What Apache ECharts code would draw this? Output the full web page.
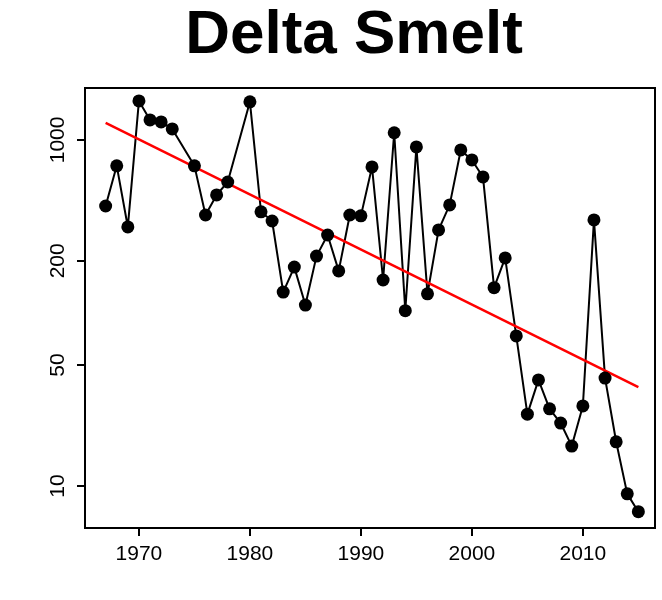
<!DOCTYPE html>
<html><head><meta charset="utf-8">
<script src="https://cdn.jsdelivr.net/npm/echarts@6/dist/echarts.min.js"></script>
<style>html,body{margin:0;padding:0;background:#fff}#c{width:662px;height:600px}</style>
</head><body><div id="c"></div>
<script>
const years = [1967,1968,1969,1970,1971,1972,1973,1975,1976,1977,1978,1980,1981,1982,1983,1984,1985,1986,1987,1988,1989,1990,1991,1992,1993,1994,1995,1996,1997,1998,1999,2000,2001,2002,2003,2004,2005,2006,2007,2008,2009,2010,2011,2012,2013,2014,2015];
const index = [415,708,314,1680,1305,1270,1157,708,368,481,571,1660,384,340,132,184,111,213,282,175,368,364,698,155,1100,103,911,129,302,421,875,766,611,140,208,73.6,26,41,27.9,23.1,17,29,345,42,18,9,7.1];
const trendYears = [1967,2015];
const trendValues = [1254,37.3];
const yTicks = [10,50,200,1000];
const xTicks = [1970,1980,1990,2000,2010];

const chart = echarts.init(document.getElementById('c'));
const lab = {color:'#000',fontSize:21,fontFamily:'Liberation Sans, Arial'};
chart.setOption({
  animation:false,
  title:{text:'Delta Smelt',left:349,textAlign:'center',top:0,textStyle:{fontSize:62,fontWeight:'bold',color:'#000',fontFamily:'Liberation Sans, Arial'}},
  grid:{left:85,right:7,top:88,bottom:72,show:true,borderColor:'#000',borderWidth:2},
  xAxis:{type:'value',min:1965.14,max:2016.5,splitLine:{show:false},
    axisLine:{show:false},
    axisTick:{length:8,lineStyle:{color:'#000',width:2},customValues:xTicks},
    axisLabel:Object.assign({customValues:xTicks,margin:16,formatter:v=>String(v)},lab)},
  yAxis:{type:'value',min:0.757,max:3.30,splitLine:{show:false},
    axisLine:{show:false},
    axisTick:{length:8,lineStyle:{color:'#000',width:2},customValues:yTicks.map(Math.log10)},
    axisLabel:Object.assign({customValues:yTicks.map(Math.log10),rotate:90,margin:16,
      formatter:v=>String(Math.round(Math.pow(10,v)))},lab)},
  series:[
    {type:'line',data:years.map((y,i)=>[y,Math.log10(index[i])]),symbol:'circle',symbolSize:13,
      itemStyle:{color:'#000'},lineStyle:{color:'#000',width:2}},
    {type:'line',data:trendYears.map((y,i)=>[y,Math.log10(trendValues[i])]),symbol:'none',
      lineStyle:{color:'#ff0000',width:2.5}}
  ]
});
</script></body></html>
